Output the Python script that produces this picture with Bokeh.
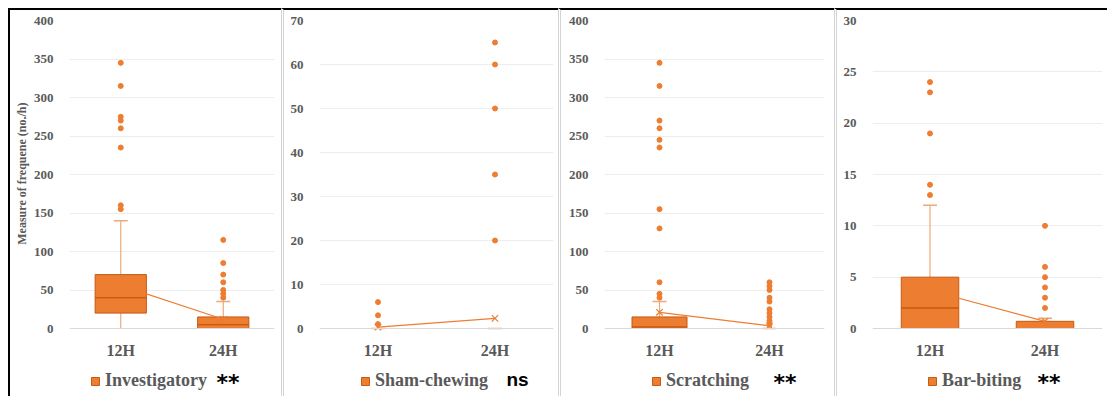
from bokeh.plotting import figure
from bokeh.layouts import row
from bokeh.models import FactorRange, Range1d, FixedTicker, Legend, LegendItem, Label, Title
from bokeh.embed import file_html
from bokeh.resources import INLINE

# ---------------- data ----------------
categories = ["12H", "24H"]
behaviours = ["Investigatory", "Sham-chewing", "Scratching", "Bar-biting"]
significance = ["**", "ns", "**", "**"]
y_max = [400, 70, 400, 30]
y_step = [50, 10, 50, 5]
y_title = "Measure of frequene (no./h)"

inv_q1 = [20, 0]
inv_med = [40, 5]
inv_q3 = [70, 15]
inv_lo = [0, 0]
inv_hi = [140, 35]
inv_mean = [56, 12]
inv_out_12 = [155, 160, 235, 260, 270, 275, 315, 345]
inv_out_24 = [40, 45, 50, 60, 70, 85, 115]

sham_q1 = [0, 0]
sham_med = [0, 0]
sham_q3 = [0, 0]
sham_lo = [0, 0]
sham_hi = [0, 0]
sham_mean = [0.3, 2.3]
sham_out_12 = [1, 3, 6]
sham_out_24 = [20, 35, 50, 60, 65]

scr_q1 = [0, 0]
scr_med = [2, 0]
scr_q3 = [15, 0]
scr_lo = [0, 0]
scr_hi = [35, 0]
scr_mean = [21, 3.5]
scr_out_12 = [40, 45, 60, 130, 155, 235, 245, 260, 270, 315, 345]
scr_out_24 = [5, 10, 15, 20, 25, 35, 40, 50, 55, 60]

bar_q1 = [0, 0]
bar_med = [2, 0]
bar_q3 = [5, 0.7]
bar_lo = [0, 0]
bar_hi = [12, 1]
bar_mean = [3.7, 0.7]
bar_out_12 = [13, 14, 19, 23, 24]
bar_out_24 = [2, 3, 4, 5, 6, 10]

stats = [
    (inv_q1, inv_med, inv_q3, inv_lo, inv_hi, inv_mean, inv_out_12, inv_out_24),
    (sham_q1, sham_med, sham_q3, sham_lo, sham_hi, sham_mean, sham_out_12, sham_out_24),
    (scr_q1, scr_med, scr_q3, scr_lo, scr_hi, scr_mean, scr_out_12, scr_out_24),
    (bar_q1, bar_med, bar_q3, bar_lo, bar_hi, bar_mean, bar_out_12, bar_out_24),
]

# ---------------- layout / style ----------------
ORANGE = "#ED7D31"
DARK = "#C55A11"
LIGHT = "#F0A878"
GREY = "#595959"
SERIF = "Liberation Serif"

widths = [273, 277, 276, 273]
left_b = [55, 35, 43, 35]
right_b = [9, 8, 13, 8]
H = 388
top_b = 10
plot_h = 308            # px from top of frame to the zero line
total_h = H - top_b     # full frame height (legend area lives inside the frame)
legend_x = [21, 41, 47, 55]
legend_y = 7
sig_x = [1.435, 1.598, 1.536, 1.435]
sig_px = [54, 51, 54, 54]   # px below the zero line (label middle)
sig_font = ["DejaVu Sans", "Liberation Sans", "DejaVu Sans", "DejaVu Sans"]
sig_size = ["22px", "19px", "22px", "22px"]

figs = []
for i in range(4):
    q1, med, q3, lo, hi, mean, out12, out24 = stats[i]
    y0 = -(total_h - plot_h) * y_max[i] / plot_h
    ticks = list(range(0, y_max[i] + 1, y_step[i]))
    p = figure(width=widths[i], height=H, output_backend="svg", toolbar_location=None,
               x_range=FactorRange(factors=categories), y_range=Range1d(y0, y_max[i]),
               min_border_left=left_b[i], min_border_right=right_b[i],
               min_border_top=top_b, min_border_bottom=0,
               background_fill_color="white", border_fill_color="white")
    p.outline_line_color = None
    p.xgrid.grid_line_color = None
    p.ygrid.grid_line_color = "#EDEDED"
    p.ygrid.ticker = FixedTicker(ticks=ticks)
    p.yaxis.ticker = FixedTicker(ticks=ticks)
    p.yaxis.axis_line_color = None
    p.yaxis.major_tick_line_color = None
    p.yaxis.minor_tick_line_color = None
    p.yaxis.major_label_standoff = 10
    p.yaxis.major_label_text_font = SERIF
    p.yaxis.major_label_text_font_style = "bold"
    p.yaxis.major_label_text_font_size = "13px"
    p.yaxis.major_label_text_color = GREY
    p.xaxis.fixed_location = 0
    p.xaxis.axis_line_color = "#D9D9D9"
    p.xaxis.major_tick_line_color = None
    p.xaxis.minor_tick_line_color = None
    p.xaxis.major_label_standoff = 7
    p.xaxis.major_label_text_font = SERIF
    p.xaxis.major_label_text_font_style = "bold"
    p.xaxis.major_label_text_font_size = "16px"
    p.xaxis.major_label_text_color = GREY
    if i == 0:
        p.add_layout(Title(text=y_title, align="right", offset=82, standoff=4,
                           text_font=SERIF, text_font_style="bold",
                           text_font_size="12px", text_color=GREY), "left")

    # whiskers
    p.segment(x0=categories, y0=q3, x1=categories, y1=hi, line_color=LIGHT, line_width=1.2)
    p.segment(x0=categories, y0=lo, x1=categories, y1=q1, line_color=LIGHT, line_width=1.2)
    p.scatter(x=categories, y=hi, marker="dash", size=14, line_color=LIGHT, line_width=1.5)
    # boxes
    box = p.vbar(x=categories, width=0.5, bottom=q1, top=q3, fill_color=ORANGE,
                 line_color=DARK, line_width=1)
    p.vbar(x=categories, width=0.5, bottom=med, top=med, fill_alpha=0,
           line_color=DARK, line_width=1)
    # mean line and markers
    p.line(x=categories, y=mean, line_color=ORANGE, line_width=1.2)
    p.scatter(x=categories, y=mean, marker="x", size=9, line_color=ORANGE, line_width=1.2)
    # outliers
    p.scatter(x=[categories[0]] * len(out12), y=out12, size=5, fill_color=ORANGE, line_color=ORANGE)
    p.scatter(x=[categories[1]] * len(out24), y=out24, size=5, fill_color=ORANGE, line_color=ORANGE)

    legend = Legend(items=[LegendItem(label=behaviours[i], renderers=[box])],
                    location=(legend_x[i], legend_y), orientation="horizontal",
                    label_text_font=SERIF, label_text_font_style="bold",
                    label_text_font_size="18px", label_text_color=GREY,
                    glyph_width=10, glyph_height=10, label_standoff=5,
                    padding=0, margin=0, border_line_color=None,
                    background_fill_alpha=0)
    p.add_layout(legend, "center")

    p.add_layout(Label(x=sig_x[i], y=-sig_px[i] * y_max[i] / plot_h, text=significance[i],
                       text_font=sig_font[i], text_font_style="bold",
                       text_font_size=sig_size[i], text_color="black",
                       text_baseline="middle", text_align="left"))
    st = {"border-top": "2px solid black"}
    if i == 0:
        st["border-left"] = "2px solid black"
    else:
        st["border-left"] = "3px double #D4D4D4"
    p.styles = st
    figs.append(p)

layout = row(*figs, styles={"padding-left": "8px", "padding-top": "8px"})
open("out.html", "w").write(file_html(layout, INLINE))
